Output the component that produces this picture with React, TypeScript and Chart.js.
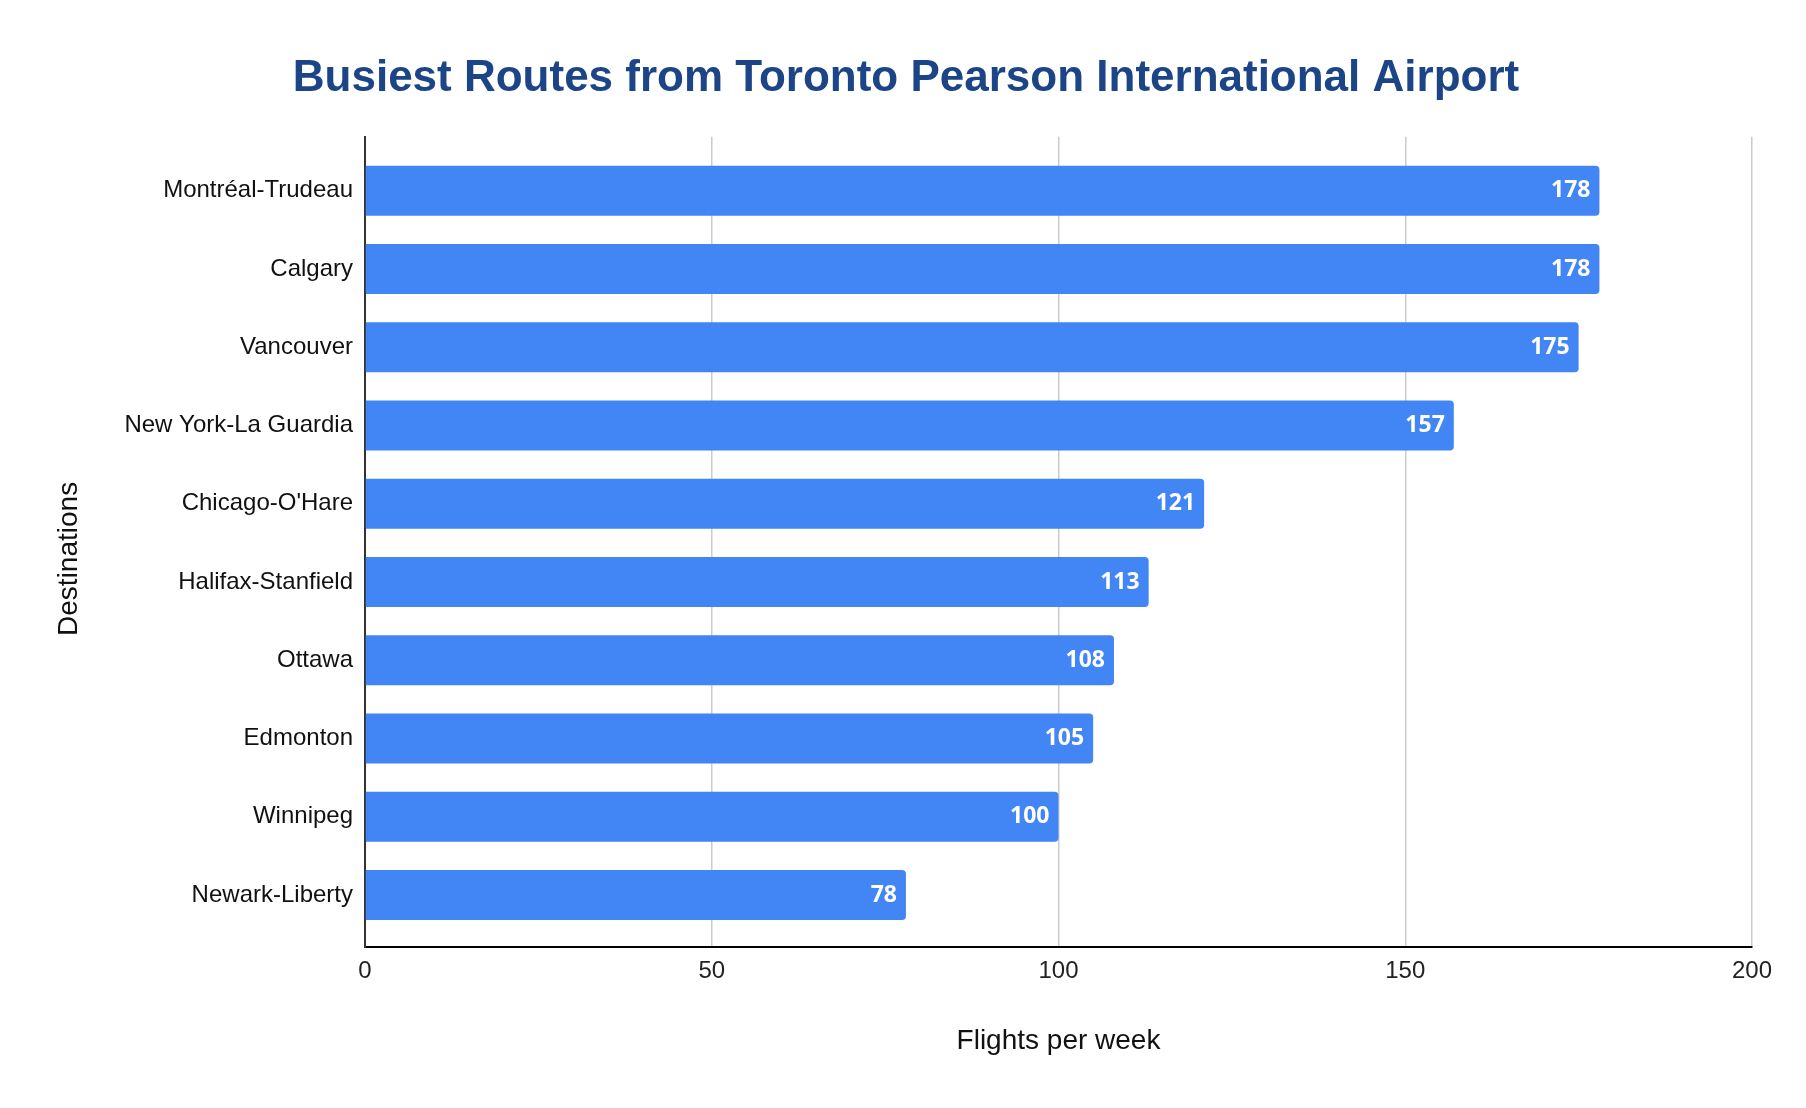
import React, { useEffect, useRef } from "react"
import { Chart, registerables } from "chart.js"

Chart.register(...registerables)

const destinations = [
  "Montréal-Trudeau",
  "Calgary",
  "Vancouver",
  "New York-La Guardia",
  "Chicago-O'Hare",
  "Halifax-Stanfield",
  "Ottawa",
  "Edmonton",
  "Winnipeg",
  "Newark-Liberty",
]
const flightsPerWeek = [178, 178, 175, 157, 121, 113, 108, 105, 100, 78]
const xTicks = [0, 50, 100, 150, 200]

const FONT = "'Liberation Sans', Arial, Helvetica, sans-serif"

// white value at the end of each bar
const barValueLabels = {
  id: "barValueLabels",
  afterDatasetsDraw(chart: Chart) {
    const { ctx } = chart
    const meta = chart.getDatasetMeta(0)
    ctx.save()
    ctx.fillStyle = "#ffffff"
    ctx.font = `bold 23px 'Open Sans', ${FONT}`
    ctx.textAlign = "right"
    ctx.textBaseline = "middle"
    meta.data.forEach((bar: any, i) => {
      ctx.fillText(String(flightsPerWeek[i]), bar.x - 9, bar.y)
    })
    ctx.restore()
  },
}

// vertical axis title, centred a bit lower than the scale box
const yAxisTitle = {
  id: "yAxisTitle",
  afterDraw(chart: Chart) {
    const { ctx, chartArea } = chart
    ctx.save()
    ctx.translate(69, (chartArea.top + chartArea.bottom) / 2 + 17)
    ctx.rotate(-Math.PI / 2)
    ctx.fillStyle = "#111111"
    ctx.font = `28px ${FONT}`
    ctx.textAlign = "center"
    ctx.textBaseline = "middle"
    ctx.fillText("Destinations", 0, 0)
    ctx.restore()
  },
}

export default function App() {
  const canvasRef = useRef<HTMLCanvasElement>(null)
  const chartRef = useRef<Chart | null>(null)

  useEffect(() => {
    document.body.style.margin = "0"
    if (!canvasRef.current) return
    const ctx = canvasRef.current.getContext("2d")
    if (!ctx) return

    chartRef.current?.destroy()

    chartRef.current = new Chart(ctx, {
      type: "bar",
      data: {
        datasets: [
          {
            label: "Flights per week",
            data: flightsPerWeek.map((v, i) => ({ x: v, y: i })),
            backgroundColor: "#4285f4",
            borderRadius: 4,
            borderSkipped: "start",
            categoryPercentage: 1,
            barPercentage: 0.64,
          },
        ],
      },
      options: {
        indexAxis: "y",
        animation: false,
        responsive: true,
        maintainAspectRatio: false,
        // left padding shifts the title centre to the right
        layout: { padding: { left: 60, right: 54, top: 0, bottom: 0 } },
        plugins: {
          legend: { display: false },
          tooltip: { enabled: false },
          title: {
            display: true,
            text: "Busiest Routes from Toronto Pearson International Airport",
            color: "#1c4587",
            font: { family: FONT, size: 44, weight: "bold", lineHeight: 1.2 },
            padding: { top: 52, bottom: 32 },
          },
        },
        scales: {
          x: {
            type: "linear",
            min: xTicks[0],
            max: xTicks[xTicks.length - 1],
            afterBuildTicks: (scale: any) => {
              scale.ticks = xTicks.map((v) => ({ value: v }))
            },
            afterFit: (scale: any) => {
              scale.height = 161
            },
            grid: { color: "#cccccc", lineWidth: 1.5, drawTicks: false },
            border: { display: true, color: "#000000", width: 2 },
            ticks: {
              color: "#222222",
              padding: 10,
              font: { family: FONT, size: 24 },
            },
            title: {
              display: true,
              text: "Flights per week",
              color: "#111111",
              font: { family: FONT, size: 28 },
              padding: { top: 0, bottom: 50 },
            },
          },
          y: {
            type: "linear",
            reverse: true,
            offset: false,
            min: -0.69,
            max: 9.665,
            afterBuildTicks: (scale: any) => {
              scale.ticks = destinations.map((_, i) => ({ value: i }))
            },
            afterFit: (scale: any) => {
              scale.width = 305
            },
            grid: { display: false, drawTicks: false, offset: false },
            border: { display: true, color: "#333333", width: 2 },
            ticks: {
              color: "#111111",
              padding: 12,
              font: { family: FONT, size: 24 },
              callback: (value: any) => destinations[value as number] ?? "",
            },
          },
        },
      },
      plugins: [barValueLabels, yAxisTitle],
    })

    return () => {
      chartRef.current?.destroy()
      chartRef.current = null
    }
  }, [])

  return (
    <div style={{ width: 1806, height: 1108, position: "relative", background: "#ffffff" }}>
      <canvas ref={canvasRef} />
    </div>
  )
}
